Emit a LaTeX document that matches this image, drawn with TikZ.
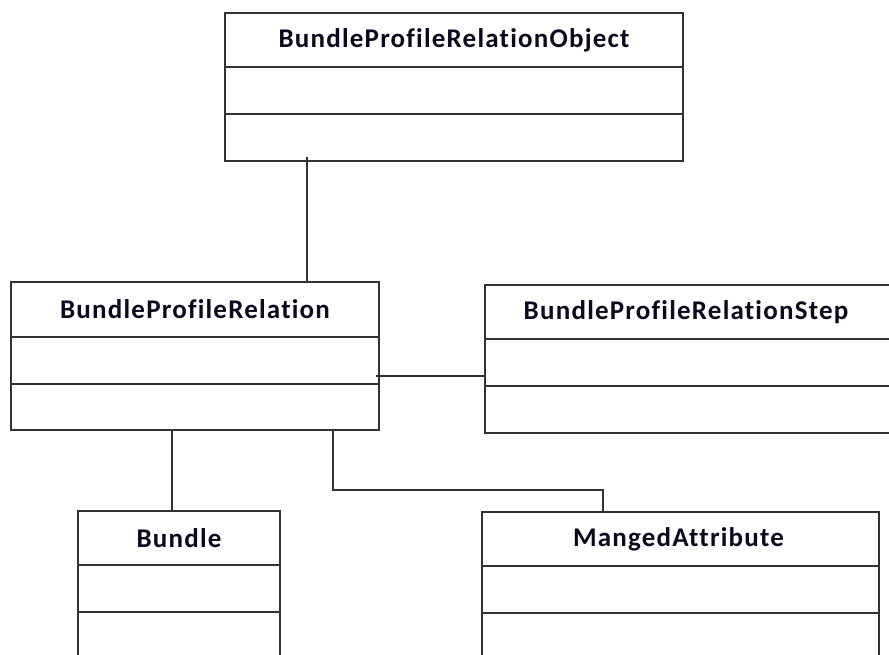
\documentclass[tikz,border=0pt]{standalone}
\usepackage{fontspec}
\newfontfamily\classfont{Carlito}[LetterSpace=4.5, Ligatures={NoCommon,NoRare}]
\usetikzlibrary{calc}
\definecolor{edge}{RGB}{50,50,50}
\definecolor{ink}{RGB}{10,10,30}
\tikzset{
  classbox/.style={draw=edge, line width=1.8pt, rectangle, anchor=north west,
    inner sep=0pt, outer sep=0pt, fill=white},
  divider/.style={draw=edge, line width=1.6pt},
  classname/.style={font=\classfont\bfseries\fontsize{27}{30}\selectfont,
    text=ink, inner sep=0pt, anchor=center},
  link/.style={draw=edge, line width=1.8pt}
}
\begin{document}
\begin{tikzpicture}[x=1pt,y=-1pt]
  \useasboundingbox (0,0) rectangle (889,654);
  \clip (0,0) rectangle (889,654);
  \fill[white] (0,0) rectangle (889,654);

  % class boxes: outer frame, two compartment dividers, title
  \node[classbox, minimum width=458pt, minimum height=148pt] (bpro) at (225,13) {};
  \draw[divider] ([yshift=-54pt]bpro.north west) -- ([yshift=-54pt]bpro.north east);
  \draw[divider] ([yshift=-101pt]bpro.north west) -- ([yshift=-101pt]bpro.north east);
  \node[classname] (bpro-t) at ([yshift=-27pt]bpro.north) {BundleProfileRelationObject};

  \node[classbox, minimum width=368pt, minimum height=148pt] (bpr) at (11,282) {};
  \draw[divider] ([yshift=-55pt]bpr.north west) -- ([yshift=-55pt]bpr.north east);
  \draw[divider] ([yshift=-102pt]bpr.north west) -- ([yshift=-102pt]bpr.north east);
  \node[classname] (bpr-t) at ([yshift=-27.5pt]bpr.north) {BundleProfileRelation};

  \node[classbox, minimum width=408pt, minimum height=148pt] (bprs) at (485,285) {};
  \draw[divider] ([yshift=-54pt]bprs.north west) -- ([yshift=-54pt]bprs.north east);
  \draw[divider] ([yshift=-101pt]bprs.north west) -- ([yshift=-101pt]bprs.north east);
  \node[classname] (bprs-t) at ([xshift=201pt,yshift=-27pt]bprs.north west) {BundleProfileRelationStep};

  \node[classbox, minimum width=202pt, minimum height=170pt] (bundle) at (78,511) {};
  \draw[divider] ([yshift=-54pt]bundle.north west) -- ([yshift=-54pt]bundle.north east);
  \draw[divider] ([yshift=-101pt]bundle.north west) -- ([yshift=-101pt]bundle.north east);
  \node[classname] (bundle-t) at ([yshift=-27pt]bundle.north) {Bundle};

  \node[classbox, minimum width=397pt, minimum height=170pt] (ma) at (482,512) {};
  \draw[divider] ([yshift=-54pt]ma.north west) -- ([yshift=-54pt]ma.north east);
  \draw[divider] ([yshift=-101pt]ma.north west) -- ([yshift=-101pt]ma.north east);
  \node[classname] (ma-t) at ([xshift=-2pt,yshift=-27pt]ma.north) {MangedAttribute};

  % associations
  \draw[link] ([xshift=82pt,yshift=4pt]bpro.south west)
      -- ([xshift=82pt]bpro.south west |- bpr.north);
  \draw[link] ([xshift=-3pt,yshift=-20pt]bpr.east)
      -- ([yshift=-20pt]bpr.east -| bprs.west);
  \draw[link] ([xshift=161pt]bpr.south west)
      -- ([xshift=161pt]bpr.south west |- bundle.north);
  \draw[link] ([xshift=322pt]bpr.south west) -- ++(0,60)
      -| ([xshift=121pt]ma.north west);
\end{tikzpicture}
\end{document}
